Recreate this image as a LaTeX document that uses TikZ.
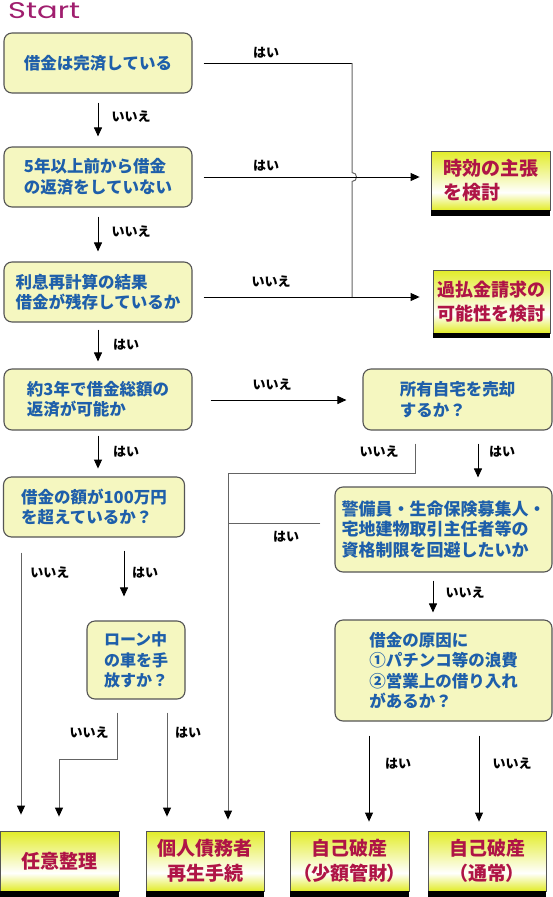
\documentclass[tikz,border=0pt]{standalone}
\usepackage{graphicx}
\usepackage{fontspec}
\setmainfont{Noto Sans CJK JP}
\newfontfamily\startfont{Poppins}
\usetikzlibrary{arrows.meta,calc}
\definecolor{boxfill}{RGB}{245,247,192}
\definecolor{boxline}{RGB}{85,85,85}
\definecolor{bluetxt}{RGB}{30,95,170}
\definecolor{redtxt}{RGB}{175,20,70}
\definecolor{resyel}{RGB}{226,236,40}
\definecolor{startcol}{RGB}{160,30,110}
\definecolor{graylin}{RGB}{100,100,100}
\pgfdeclareverticalshading{resgrad}{100bp}{color(0bp)=(resyel); color(25bp)=(resyel); color(40bp)=(white); color(75bp)=(resyel); color(100bp)=(resyel)}
\tikzset{
  qbox/.style={draw=boxline, line width=1.1pt, fill=boxfill, rounded corners=8pt, text=bluetxt, align=left, inner sep=0pt, font=\bfseries\fontsize{16.5}{20.5}\selectfont},
  rbox/.style={draw=boxline, line width=0.8pt, shading=resgrad, text=redtxt, align=left, inner sep=0pt, font=\bfseries\fontsize{19}{24.5}\selectfont},
  lbl/.style={font=\bfseries\fontsize{13}{15}\selectfont, text=black, inner sep=0pt},
  tipA/.style={-{Triangle[length=9pt,width=8pt,color=black]}},
  arr/.style={draw=black, line width=0.9pt, tipA},
  ln/.style={draw=black, line width=0.9pt},
  gln/.style={draw=graylin, line width=1pt},
  bar/.style={fill=black}
}
\begin{document}
\begin{tikzpicture}[x=1pt,y=-1pt]
\useasboundingbox (0,0) rectangle (553,897);
\fill[white] (0,0) rectangle (553,897);

\node[anchor=base west, inner sep=0pt, text=startcol] (start) at (8,18) {\resizebox{72pt}{16pt}{\startfont Start}};

% question boxes
\node[qbox, minimum width=188pt, minimum height=60pt] (b1) at (98,63) {借金は完済している};
\node[qbox, minimum width=188pt, minimum height=60pt] (b2) at (98,177) {5年以上前から借金\\の返済をしていない};
\node[qbox, minimum width=188pt, minimum height=60pt] (b3) at (98,292) {利息再計算の結果\\借金が残存しているか};
\node[qbox, minimum width=188pt, minimum height=61pt] (b4) at (98,399.5) {約3年で借金総額の\\返済が可能か};
\node[qbox, minimum width=181pt, minimum height=60pt] (b5) at (94,507) {借金の額が100万円\\を超えているか？};
\node[qbox, minimum width=189pt, minimum height=61pt] (b6) at (457.5,399.5) {所有自宅を売却\\するか？};
\node[qbox, minimum width=217pt, minimum height=85pt, font=\bfseries\fontsize{17}{20.5}\selectfont] (b7) at (443.5,529.5) {警備員・生命保険募集人・\\宅地建物取引主任者等の\\資格制限を回避したいか};
\node[qbox, minimum width=98pt, minimum height=78pt, font=\bfseries\fontsize{16}{20.5}\selectfont] (b8) at (136,660) {ローン中\\の車を手\\放すか？};
\node[qbox, minimum width=217pt, minimum height=101pt] (b9) at (443.5,670.5) {借金の原因に\\①パチンコ等の浪費\\②営業上の借り入れ\\があるか？};

% result boxes
\node[rbox, minimum width=119pt, minimum height=59pt] (r1) at (490.5,180.5) {時効の主張\\を検討};
\node[rbox, minimum width=117pt, minimum height=63pt, font=\bfseries\fontsize{18}{24.5}\selectfont] (r2) at (491.5,301.5) {過払金請求の\\可能性を検討};
\node[rbox, minimum width=118.5pt, minimum height=60pt] (r3) at (59.75,861) {任意整理};
\node[rbox, minimum width=118pt, minimum height=60pt, align=center] (r4) at (205,861) {個人債務者\\再生手続};
\node[rbox, minimum width=119pt, minimum height=60pt, align=center] (r5) at (349.5,861) {自己破産\\\addfontfeature{RawFeature=+palt}（少額管財）};
\node[rbox, minimum width=118pt, minimum height=60pt, align=center] (r6) at (487,861) {自己破産\\\addfontfeature{RawFeature=+palt}（通常）};
\foreach \r/\h in {r1/6,r2/5,r3/6,r4/6,r5/6,r6/6}{
  \fill[bar] (\r.south west) rectangle ([yshift=-\h pt]\r.south east);
}

% main chain
\draw[arr] ([yshift=-9pt]b1.south) -- ([yshift=10pt]b2.north);
\draw[arr] ([yshift=-9pt]b2.south) -- ([yshift=10pt]b3.north);
\draw[arr] ([yshift=-7pt]b3.south) -- ([yshift=7pt]b4.north);
\draw[arr] ([yshift=-5pt]b4.south) -- ([yshift=-38pt]b4.south);
\node[lbl] (l1) at (131,117) {いいえ};
\node[lbl] (l2) at (131,232) {いいえ};
\node[lbl] (l3) at (126,345) {はい};
\node[lbl] (l4) at (126,452) {はい};

% right column to results
\coordinate (jtop) at (352,63);
\coordinate (jbot) at (352,297);
\draw[ln] ([xshift=11pt]b1.east) -- (jtop);
\draw[gln] (jtop) -- (352,172.5) .. controls (358,172.5) and (358,181.5) .. (352,181.5) -- (jbot);
\draw[arr] ([xshift=11pt]b2.east) -- ([xshift=-11pt]r1.west |- b2.east);
\draw[arr] ($(b3.east |- jbot)+(11,0)$) -- ($(r2.west |- jbot)+(-13,0)$);
\node[lbl] (l5) at (266,53) {はい};
\node[lbl] (l6) at (266,166) {はい};
\node[lbl] (l7) at (271,282) {いいえ};

% middle
\coordinate (vx) at (228,473);
\draw[arr] ($(b4.east)+(18,0.5)$) -- ($(b6.west)+(-16,0.5)$);
\node[lbl] (l8) at (272,385) {いいえ};
\draw[gln, tipA] ($(b6.south)+(-42.5,13)$) |- (vx) -- ($(r4.north)+(23,-11)$);
\node[lbl] (l9) at (379,452) {いいえ};
\draw[arr] ($(b6.south)+(20.5,13)$) -- ($(b7.north)+(34.5,-9)$);
\node[lbl] (l10) at (502,452) {はい};
\draw[gln] ($(b7.west)+(-14,-6.5)$) -- (vx |- 0,523);
\node[lbl] (l11) at (286,537) {はい};
\draw[arr] ($(b7.south)+(-10.5,8)$) -- ($(b9.north)+(-10.5,-7)$);
\node[lbl] (l12) at (465,593) {いいえ};
\draw[arr] ($(b9.south)+(-74.5,14)$) -- ($(r5.north)+(19.5,-9)$);
\node[lbl] (l13) at (398,764) {はい};
\draw[arr] ($(b9.south)+(35.5,14)$) -- ($(r6.north)+(-8,-9)$);
\node[lbl] (l14) at (512,764) {いいえ};

% left bottom
\draw[gln, tipA] ($(b5.south)+(-73,15)$) -- ($(r3.north)+(-38.75,-16)$);
\node[lbl] (l15) at (50,573) {いいえ};
\draw[arr] ($(b5.south)+(30,13)$) -- ($(b8.north)+(-12,-24)$);
\node[lbl] (l16) at (145,573) {はい};
\draw[gln, tipA] ($(b8.south)+(-19,13)$) -- ++(0,47) -| ($(r3.north)+(-0.75,-14)$);
\node[lbl] (l17) at (89,733) {いいえ};
\draw[gln, tipA] ($(b8.south)+(31,13)$) -- ($(r4.north)+(-38,-14)$);
\node[lbl] (l18) at (188,733) {はい};
\end{tikzpicture}
\end{document}
